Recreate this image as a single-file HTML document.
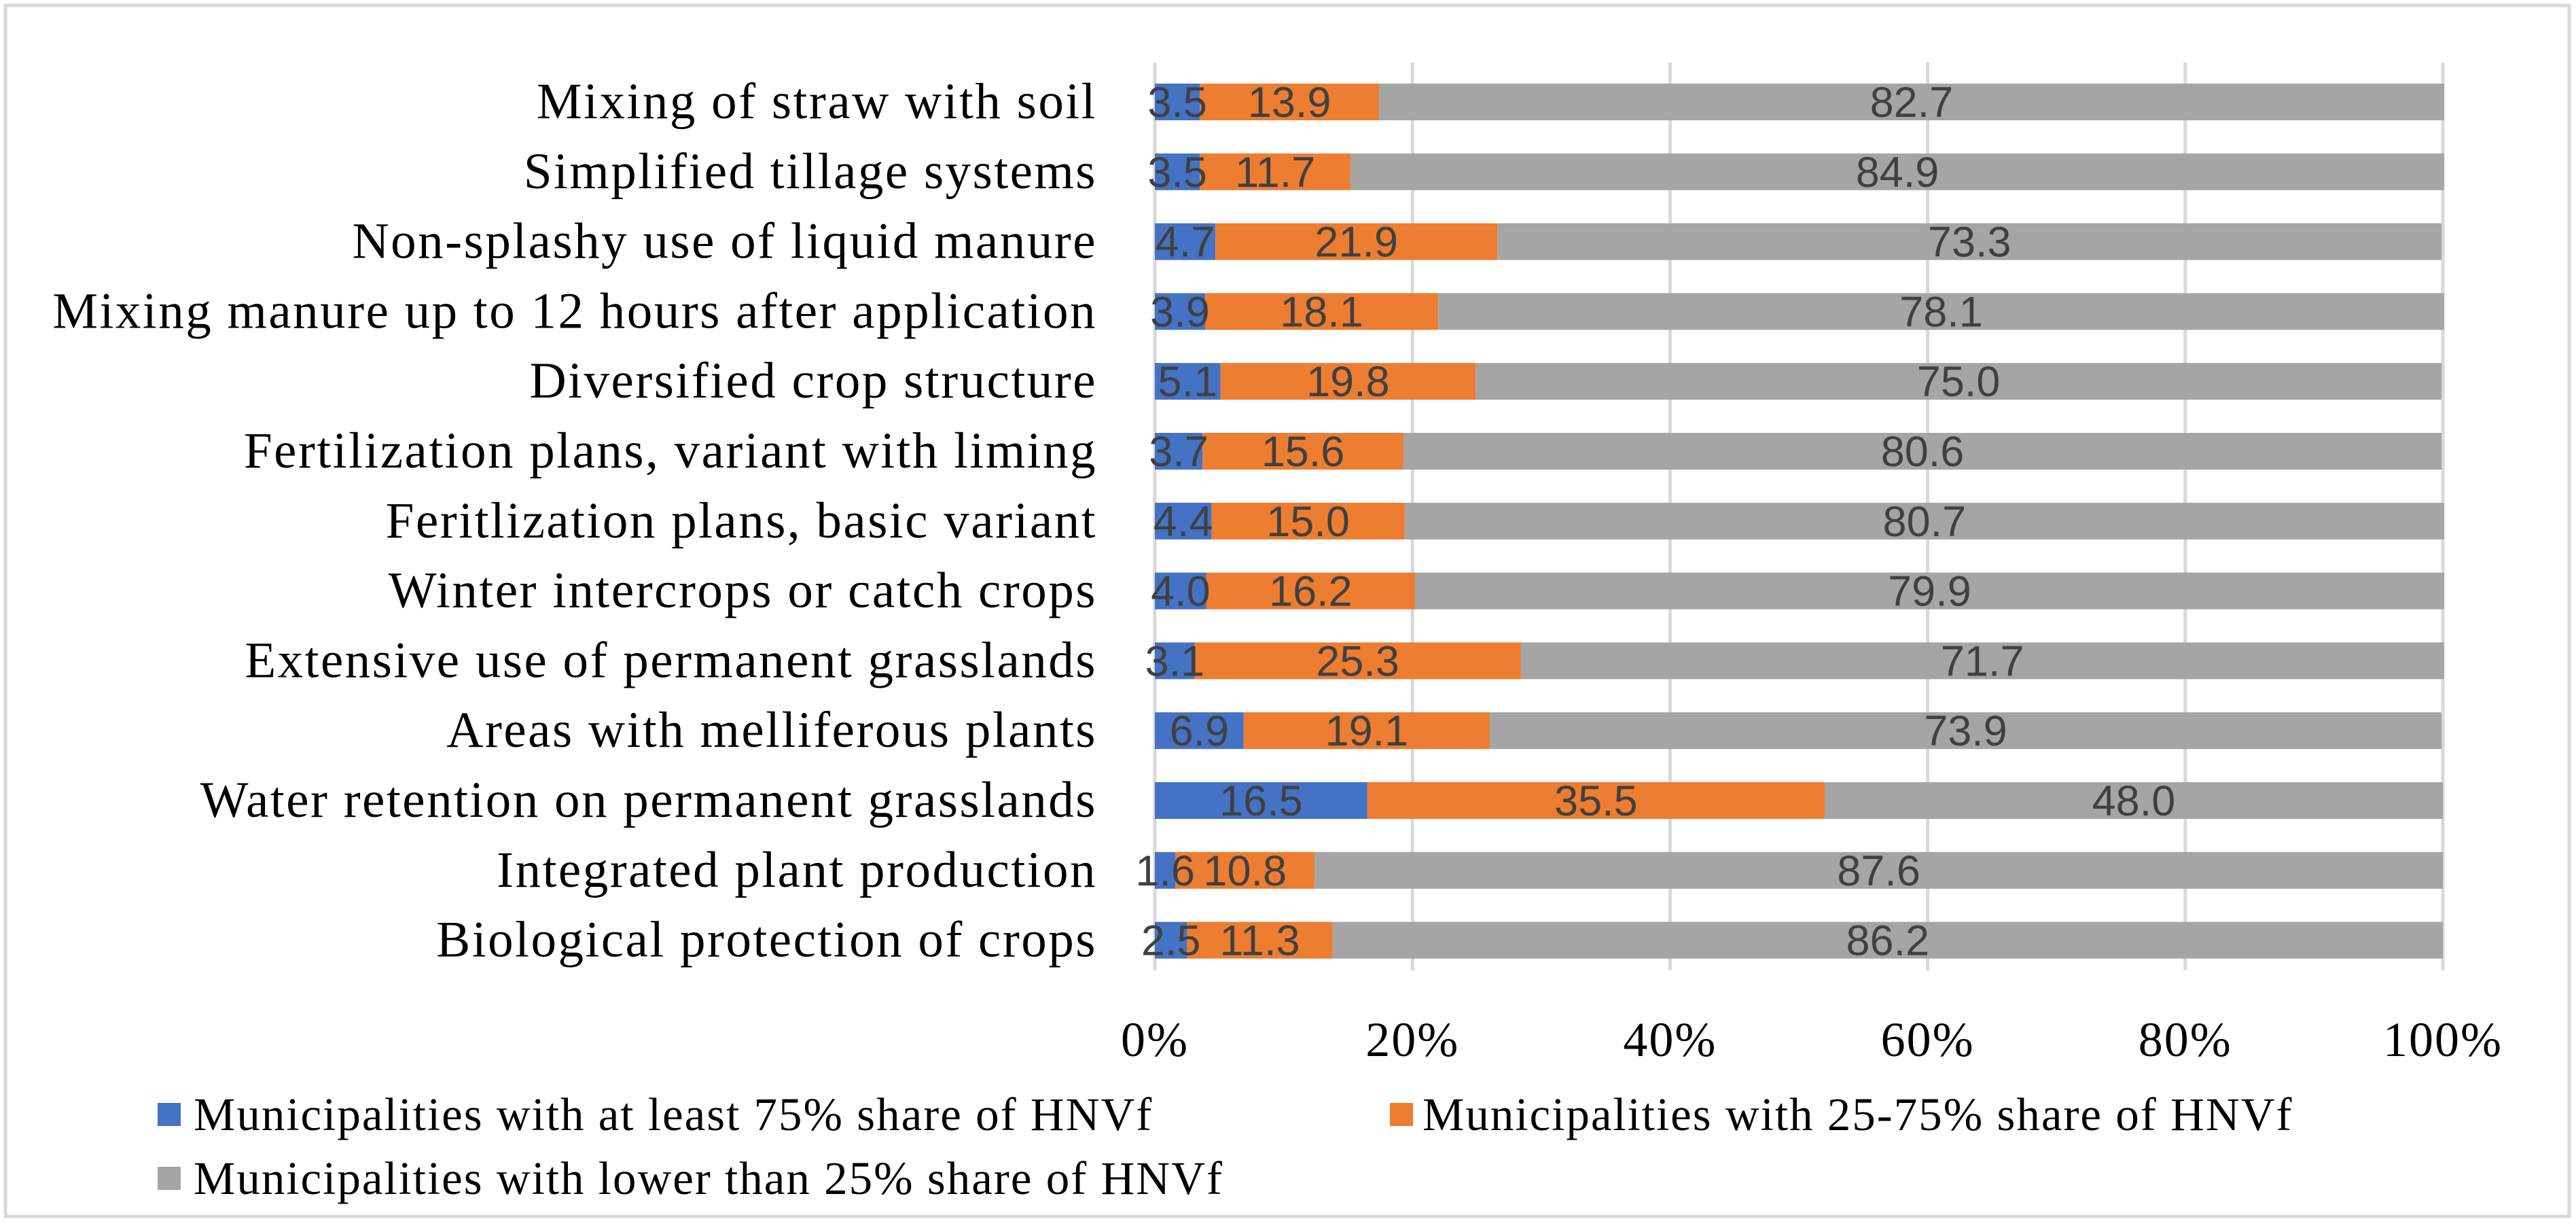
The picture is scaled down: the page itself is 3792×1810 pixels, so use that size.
<!DOCTYPE html>
<html><head><meta charset="utf-8"><style>
html,body{margin:0;padding:0;background:#fff;}
svg{display:block;}
.cat{font-family:"Liberation Serif",serif;font-size:75px;letter-spacing:2.5px;fill:#000;}
.val{font-family:"Liberation Sans",sans-serif;font-size:63px;fill:#404040;}
.tick{font-family:"Liberation Serif",serif;font-size:72px;letter-spacing:2px;fill:#000;}
.leg{font-family:"Liberation Serif",serif;font-size:69px;letter-spacing:2px;fill:#000;}
</style></head><body>
<svg id="chart" width="3792" height="1810" viewBox="0 0 3792 1810" xmlns="http://www.w3.org/2000/svg">
<rect x="8" y="8" width="3774" height="1782" fill="#fff" stroke="#d9d9d9" stroke-width="5"/>
<g id="grid"></g><g id="bars"></g><g id="labels"></g>
<g>
<g><rect x="232" y="1623" width="34" height="34" fill="#4472c4"/><text class="leg" x="285" y="1663">Municipalities with at least 75% share of HNVf</text></g>
<g><rect x="2046" y="1623" width="34" height="34" fill="#ed7d31"/><text class="leg" x="2094" y="1663">Municipalities with 25-75% share of HNVf</text></g>
<g><rect x="232" y="1717" width="34" height="34" fill="#a5a5a5"/><text class="leg" x="285" y="1757">Municipalities with lower than 25% share of HNVf</text></g>
</g>
</svg>
<script>
const categories=["Mixing of straw with soil","Simplified tillage systems","Non-splashy use of liquid manure","Mixing manure up to 12 hours after application","Diversified crop structure","Fertilization plans, variant with liming","Feritlization plans, basic variant","Winter intercrops or catch crops","Extensive use of permanent grasslands","Areas with melliferous plants","Water retention on permanent grasslands","Integrated plant production","Biological protection of crops"];
const highShare=[3.5,3.5,4.7,3.9,5.1,3.7,4.4,4.0,3.1,6.9,16.5,1.6,2.5];
const midShare=[13.9,11.7,21.9,18.1,19.8,15.6,15.0,16.2,25.3,19.1,35.5,10.8,11.3];
const lowShare=[82.7,84.9,73.3,78.1,75.0,80.6,80.7,79.9,71.7,73.9,48.0,87.6,86.2];
const tickValues=[0,20,40,60,80,100];
const tickLabels=["0%","20%","40%","60%","80%","100%"];
const NS="http://www.w3.org/2000/svg";
const x0=1700,x1=3596,yTop=150,step=102.8,bh=54;
function xs(v){return x0+(x1-x0)*v/100;}
function ys(i){return yTop+i*step;}
function mk(t,a,p){const e=document.createElementNS(NS,t);for(const k in a)e.setAttribute(k,a[k]);p.appendChild(e);return e;}
const grid=document.getElementById('grid'),bars=document.getElementById('bars'),labels=document.getElementById('labels');
tickValues.forEach((v,i)=>{
 const l=mk('line',{x1:xs(v),x2:xs(v),y1:92,y2:1428,stroke:'#d9d9d9','stroke-width':5},grid);
 
 
 const t=mk('text',{x:xs(v),y:1554,'text-anchor':'middle',class:'tick'},grid);
 t.textContent=tickLabels[i];
 
 
});
const series=[[highShare,'#4472c4','high'],[midShare,'#ed7d31','mid'],[lowShare,'#a5a5a5','low']];
categories.forEach((c,i)=>{
 const cy=ys(i);
 const t=mk('text',{x:1615,y:cy+24,'text-anchor':'end',class:'cat'},labels);
 t.textContent=c;
 
 
 let acc=0;
 series.forEach(([arr,col,nm])=>{
  const v=arr[i];
  const r=mk('rect',{x:xs(acc),y:cy-bh/2,width:xs(acc+v)-xs(acc),height:bh,fill:col},bars);
  
  
  const vl=mk('text',{x:(xs(acc)+xs(acc+v))/2,y:cy+22,'text-anchor':'middle',class:'val'},labels);
  vl.textContent=v.toFixed(1);
  
  
  acc+=v;
 });
});
</script>
</body></html>
